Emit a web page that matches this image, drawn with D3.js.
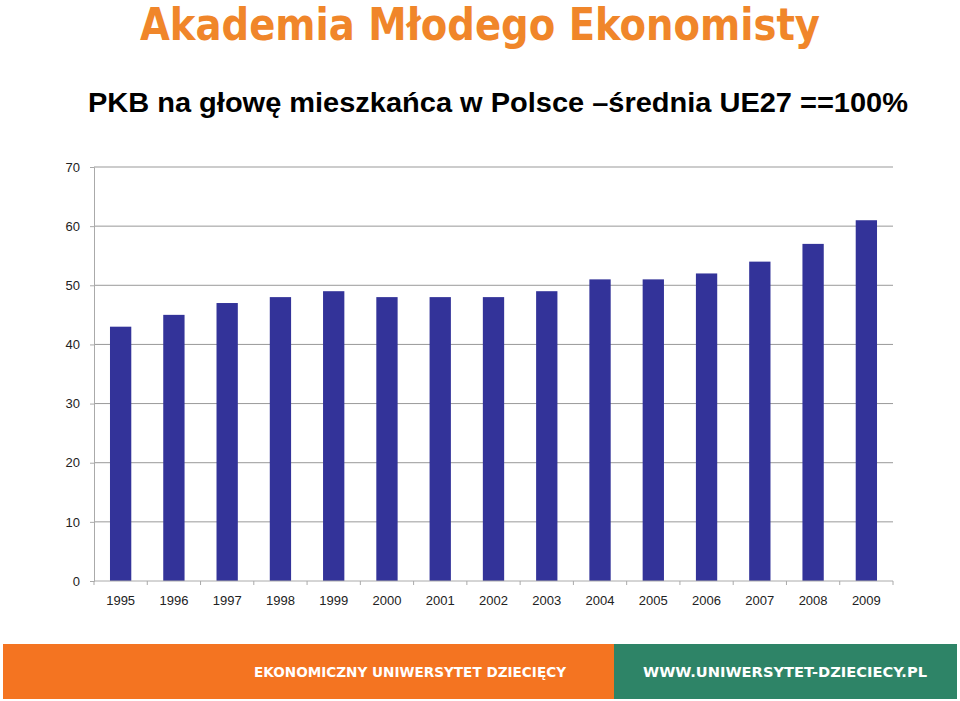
<!DOCTYPE html>
<html><head><meta charset="utf-8">
<script src="https://cdn.jsdelivr.net/npm/d3@7"></script>
<style>body{margin:0;background:#fff}svg{display:block}</style>
</head><body>
<script>
const years = ["1995","1996","1997","1998","1999","2000","2001","2002","2003","2004","2005","2006","2007","2008","2009"];
const values = [43,45,47,48,49,48,48,48,49,51,51,52,54,57,61];
const yTicks = [0,10,20,30,40,50,60,70];

(function(){
const W = 960, H = 701;
const svg = d3.select("body").append("svg").attr("width", W).attr("height", H);

svg.append("text").attr("x", 140).attr("y", 40)
  .attr("textLength", 680).attr("lengthAdjust", "spacingAndGlyphs")
  .style("font-family", "'DejaVu Sans'").style("font-weight", "bold").style("font-size", "44px")
  .attr("fill", "#f0862a").text("Akademia Młodego Ekonomisty");

svg.append("text").attr("x", 88).attr("y", 112)
  .attr("textLength", 820).attr("lengthAdjust", "spacingAndGlyphs")
  .style("font-family", "'Liberation Sans', Arial").style("font-weight", "bold").style("font-size", "28px")
  .attr("fill", "#000").text("PKB na głowę mieszkańca w Polsce –średnia UE27 ==100%");

const pLeft = 94, pRight = 893, pTop = 167, pBottom = 581;
const x = d3.scaleBand().domain(years).range([pLeft, pRight]).paddingInner(0.6).paddingOuter(0.3);
const xb = d3.scaleBand().domain(years).range([pLeft, pRight]);
const y = d3.scaleLinear().domain([0, 70]).range([pBottom, pTop]);

const g = svg.append("g");
g.selectAll(".grid").data(yTicks.filter(d => d > 0)).enter().append("line")
  .attr("x1", pLeft).attr("x2", pRight).attr("y1", d => y(d)).attr("y2", d => y(d))
  .attr("stroke", "#999").attr("stroke-width", 1);

g.selectAll(".bar").data(values).enter().append("rect")
  .attr("x", (d, i) => x(years[i])).attr("width", x.bandwidth())
  .attr("y", d => y(d)).attr("height", d => pBottom - y(d))
  .attr("fill", "#333399");

const yAxis = svg.append("g").attr("transform", `translate(${pLeft},0)`)
  .call(d3.axisLeft(y).tickValues(yTicks).tickSize(4).tickPadding(10));
yAxis.select(".domain").attr("stroke", "#aaa");
yAxis.selectAll(".tick line").attr("stroke", "#aaa");
yAxis.selectAll("text").style("font-family", "'Liberation Sans', Arial").style("font-size", "13px").attr("fill", "#222");

const xAxis = svg.append("g").attr("transform", `translate(0,${pBottom})`);
xAxis.append("line").attr("x1", pLeft).attr("x2", pRight).attr("stroke", "#aaa");
xAxis.selectAll(".tk").data(years.concat(["end"])).enter().append("line")
  .attr("x1", (d, i) => pLeft + i * xb.bandwidth()).attr("x2", (d, i) => pLeft + i * xb.bandwidth())
  .attr("y1", 0).attr("y2", 4).attr("stroke", "#aaa");
xAxis.selectAll(".lbl").data(years).enter().append("text")
  .attr("x", d => xb(d) + xb.bandwidth() / 2).attr("y", 24).attr("text-anchor", "middle")
  .style("font-family", "'Liberation Sans', Arial").style("font-size", "13px").attr("fill", "#222")
  .text(d => d);

svg.append("rect").attr("x", 3).attr("y", 644).attr("width", 611).attr("height", 55).attr("fill", "#f47421");
svg.append("rect").attr("x", 614).attr("y", 644).attr("width", 343).attr("height", 55).attr("fill", "#2e8467");
svg.append("text").attr("x", 410).attr("y", 677).attr("text-anchor", "middle")
  .attr("textLength", 312).attr("lengthAdjust", "spacingAndGlyphs")
  .style("font-family", "'DejaVu Sans'").style("font-weight", "bold").style("font-size", "14px")
  .attr("fill", "#fff").text("EKONOMICZNY UNIWERSYTET DZIECIĘCY");
svg.append("text").attr("x", 785).attr("y", 677).attr("text-anchor", "middle")
  .attr("textLength", 284).attr("lengthAdjust", "spacingAndGlyphs")
  .style("font-family", "'DejaVu Sans'").style("font-weight", "bold").style("font-size", "14px")
  .attr("fill", "#fff").text("WWW.UNIWERSYTET-DZIECIECY.PL");
})();
</script>
</body></html>
